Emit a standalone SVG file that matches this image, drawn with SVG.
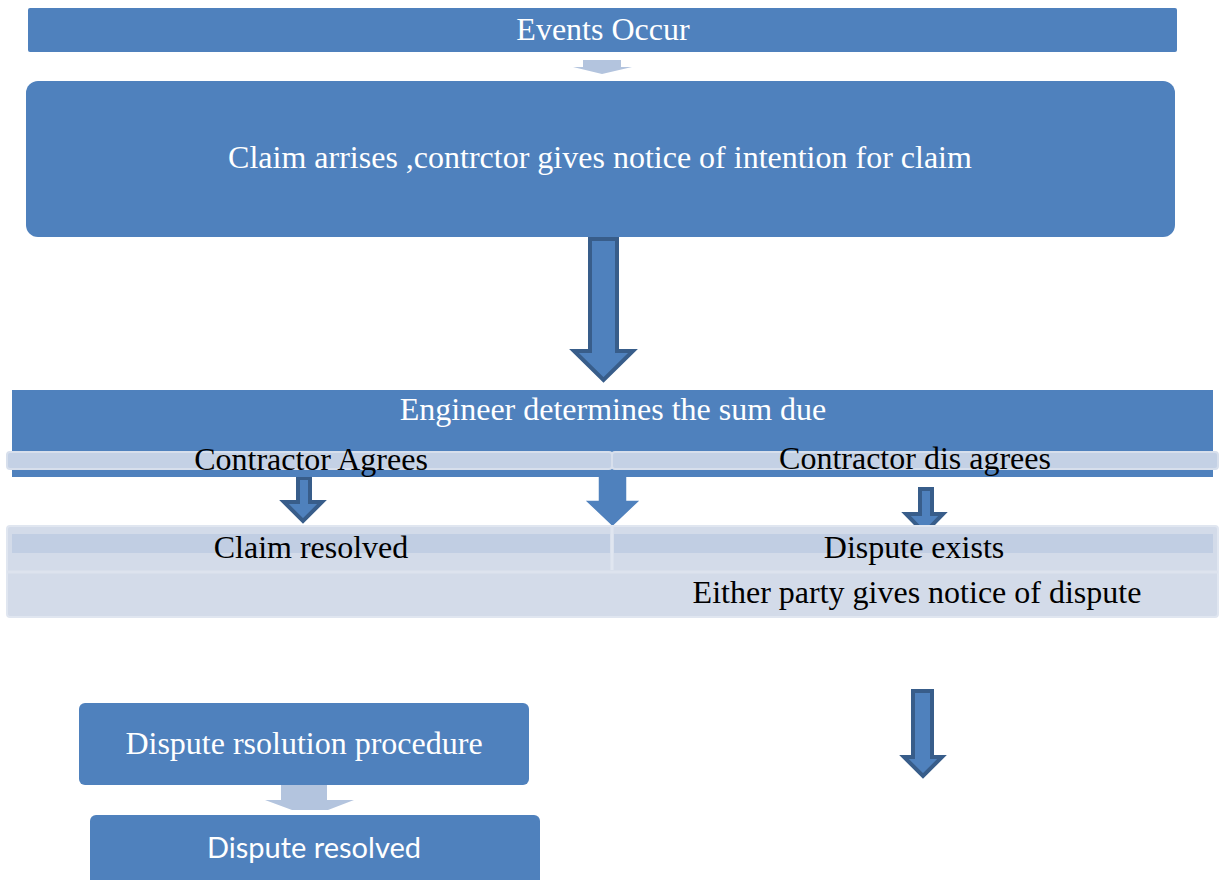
<svg xmlns="http://www.w3.org/2000/svg" width="1219" height="880" viewBox="0 0 1219 880">
<style>
.box{fill:#4f81bd}
.wt{fill:#ffffff;font-family:"Liberation Serif",serif;font-size:32px;text-anchor:middle}
.bt{fill:#000000;font-family:"Liberation Serif",serif;font-size:32px;text-anchor:middle}
.st{fill:#ffffff;font-family:Lato,"Open Sans",sans-serif;font-size:29px;text-anchor:middle}
.darr{fill:#4f81bd;stroke:#385d8a;stroke-width:4;stroke-linejoin:miter}
.larr{fill:#b3c4de}
</style>
<rect width="1219" height="880" fill="#ffffff"/>
<g id="connectors">
<polygon class="larr" points="583,60 621,60 621,67 632,67 602,74 573,67 583,67"/>
<polygon class="darr" points="590,239 617,239 617,351 633,351 603.5,380 574,351 590,351"/>
<polygon class="darr" points="298,478 310,478 310,502 322,502 303,521 284,502 298,502"/>
<polygon fill="#4f81bd" stroke="#ffffff" stroke-width="1.5" points="598,476 627,476 627,500 641,500 612.5,527 584,500 598,500"/>
<polygon class="darr" points="920,489 932,489 932,514 943,514 924.5,533 906,514 920,514"/>
<polygon class="darr" points="913,691 932,691 932,757 942,757 923,776 904,757 913,757"/>
<polygon class="larr" points="281,785 327,785 327,800 354,800 328,810 292,810 265,800 281,800"/>
</g>
<g id="events">
<rect class="box" x="28" y="8" width="1149" height="44" rx="2"/>
<text class="wt" x="603" y="40">Events Occur</text>
</g>
<g id="claim">
<rect class="box" x="26" y="81" width="1149" height="156" rx="12"/>
<text class="wt" x="600" y="168">Claim arrises ,contrctor gives notice of intention for claim</text>
</g>
<g id="engineer">
<rect class="box" x="12" y="390" width="1201" height="87"/>
<text class="wt" x="613" y="420">Engineer determines the sum due</text>
</g>
<g id="contractor-agrees">
<rect x="7" y="452" width="605" height="17" rx="3" fill="#c4d1e5" stroke="#d7dfec" stroke-width="2"/>
<text class="bt" x="311" y="470">Contractor Agrees</text>
</g>
<g id="contractor-disagrees">
<rect x="612" y="452" width="606" height="17" rx="3" fill="#c4d1e5" stroke="#d7dfec" stroke-width="2"/>
<text class="bt" x="915" y="469">Contractor dis agrees</text>
</g>
<g id="outcomes">
<rect x="7" y="526" width="1211" height="91" rx="3" fill="#d3dbe9" stroke="#e0e6f0" stroke-width="2"/>
<rect x="12" y="534" width="598" height="19" fill="#c1cee3"/>
<rect x="614" y="534" width="599" height="19" fill="#c1cee3"/>
<line x1="612" y1="527" x2="612" y2="570" stroke="#e0e6f0" stroke-width="3"/>
<line x1="7" y1="572" x2="1218" y2="572" stroke="#dde3ee" stroke-width="3"/>
</g>
<g id="claim-resolved">
<text class="bt" x="311" y="558">Claim resolved</text>
</g>
<g id="dispute-exists">
<text class="bt" x="914" y="558">Dispute exists</text>
<text class="bt" x="917" y="603">Either party gives notice of dispute</text>
</g>
<g id="dispute-procedure">
<rect class="box" x="79" y="703" width="450" height="82" rx="6"/>
<text class="wt" x="304" y="754">Dispute rsolution procedure</text>
</g>
<g id="dispute-resolved">
<rect class="box" x="90" y="815" width="450" height="75" rx="6"/>
<text class="st" x="314" y="858">Dispute resolved</text>
</g>
</svg>
